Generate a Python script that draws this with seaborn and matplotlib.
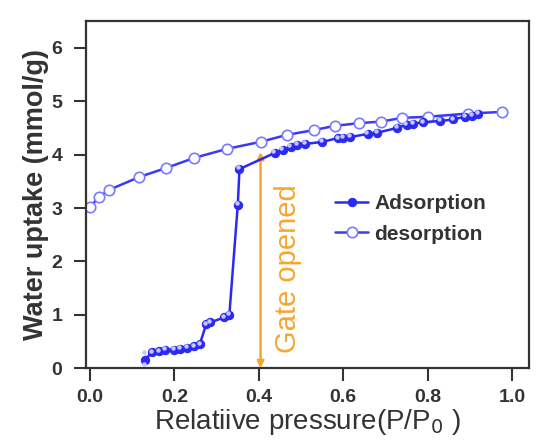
import matplotlib
matplotlib.use("Agg")
import matplotlib.pyplot as plt
import seaborn as sns
import pandas as pd

ads_x = [0.13, 0.13, 0.147, 0.164, 0.178, 0.20, 0.214, 0.23, 0.247, 0.26, 0.275, 0.285,
         0.318, 0.33, 0.35, 0.354, 0.437, 0.456, 0.475, 0.49, 0.51, 0.55, 0.587, 0.60,
         0.617, 0.658, 0.68, 0.727, 0.75, 0.765, 0.79, 0.83, 0.86, 0.888, 0.905, 0.92]
ads_y = [0.05, 0.27, 0.30, 0.32, 0.34, 0.35, 0.36, 0.38, 0.41, 0.45, 0.82, 0.86,
         0.95, 1.0, 3.06, 3.73, 4.03, 4.09, 4.15, 4.18, 4.20, 4.24, 4.31, 4.32,
         4.33, 4.39, 4.41, 4.50, 4.56, 4.58, 4.61, 4.63, 4.66, 4.71, 4.73, 4.76]
des_x = [0.0, 0.02, 0.045, 0.116, 0.18, 0.247, 0.325, 0.404, 0.466, 0.53, 0.58, 0.637,
         0.69, 0.74, 0.80, 0.895, 0.975]
des_y = [3.02, 3.20, 3.34, 3.58, 3.75, 3.94, 4.11, 4.24, 4.37, 4.46, 4.54, 4.59,
         4.62, 4.69, 4.71, 4.77, 4.80]

x_ticks = [0.0, 0.2, 0.4, 0.6, 0.8, 1.0]
y_ticks = [0, 1, 2, 3, 4, 5, 6]

sns.set_style("ticks")
plt.rcParams['font.family'] = ['Liberation Sans', 'DejaVu Sans']

fig = plt.figure(figsize=(5.47, 4.42), dpi=100)
ax = fig.add_axes([0.157, 0.167, 0.81, 0.785])

ads = pd.DataFrame({"x": ads_x, "y": ads_y})
des = pd.DataFrame({"x": des_x, "y": des_y})

blue = "#2a2af2"
sns.lineplot(data=des, x="x", y="y", ax=ax, color="#3a3af5", lw=1.8, marker="o",
             markersize=7.5, markerfacecolor="white", markeredgecolor="#7a7aff",
             markeredgewidth=1.2, label="desorption", sort=False, zorder=2)
sns.lineplot(data=ads, x="x", y="y", ax=ax, color=blue, lw=1.8, marker="o",
             markersize=6, markerfacecolor=blue, markeredgecolor=blue,
             label="Adsorption", sort=False, zorder=3)
ax.plot(ads["x"] - 0.003, ads["y"] + 0.03, ls="none", marker="o", markersize=2.2,
        color="#c8c8ff", zorder=4)

orange = "#f7a52c"
ax.annotate("", xy=(0.404, 0.0), xytext=(0.404, 4.05),
            arrowprops=dict(arrowstyle="<|-|>", color=orange, lw=1.8,
                            mutation_scale=10, shrinkA=0, shrinkB=0), zorder=1)
ax.text(0.468, 1.87, "Gate opened", rotation=90, color=orange, fontsize=21,
        ha="center", va="center")

ax.set_xlim(-0.01, 1.04)
ax.set_ylim(0, 6.5)
ax.set_xticks(x_ticks)
ax.set_xticklabels([f"{v:.1f}" for v in x_ticks])
ax.set_yticks(y_ticks)
ax.set_yticklabels([str(v) for v in y_ticks])

tc = "#333333"
ax.tick_params(axis="both", direction="out", length=9, width=1.5, colors=tc,
               labelsize=14)
ax.tick_params(axis="x", pad=6)
ax.tick_params(axis="y", pad=8)
for lab in ax.get_xticklabels() + ax.get_yticklabels():
    lab.set_fontweight("bold")
for s in ax.spines.values():
    s.set_visible(True)
    s.set_linewidth(1.6)
    s.set_color(tc)

ax.set_xlabel("Relatiive pressure(P/P$_0$ )", fontsize=20, color=tc, labelpad=1)
ax.set_ylabel("Water uptake (mmol/g)", fontsize=19.5, color=tc, fontweight="bold",
              labelpad=2)

handles, labels = ax.get_legend_handles_labels()
order = [1, 0]
leg = ax.legend([handles[i] for i in order], [labels[i] for i in order],
                loc="center left", bbox_to_anchor=(0.52, 0.43), frameon=False,
                prop={"size": 15, "weight": "bold"}, handlelength=1.6,
                handletextpad=0.3, labelspacing=0.55)
for t in leg.get_texts():
    t.set_color(tc)

fig.savefig("out.png", dpi=100)
